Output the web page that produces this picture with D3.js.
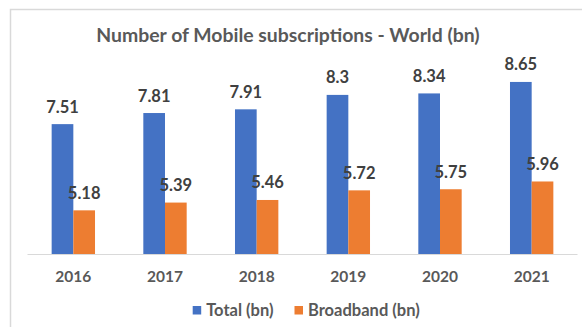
<!DOCTYPE html>
<html>
<head>
<meta charset="utf-8">
<script src="https://cdn.jsdelivr.net/npm/d3@7"></script>
<style>
  html, body { margin: 0; padding: 0; background: #ffffff; }
  svg { display: block; font-family: Lato, "Open Sans", sans-serif; font-weight: 700; }
</style>
</head>
<body>
<svg id="chart" width="582" height="327"></svg>
<script>
// Mobile subscriptions worldwide, billions
const years = ["2016", "2017", "2018", "2019", "2020", "2021"];
const totalBn = [7.51, 7.81, 7.91, 8.3, 8.34, 8.65];
const broadbandBn = [5.18, 5.39, 5.46, 5.72, 5.75, 5.96];
const seriesNames = ["Total (bn)", "Broadband (bn)"];
const seriesColors = ["#4472C4", "#ED7D31"];
const yDomain = [4, 9];
const title = "Number of Mobile subscriptions - World (bn)";

const rows = years.map((y, i) => ({ year: y, values: [totalBn[i], broadbandBn[i]] }));

const svg = d3.select("#chart");

// chart frame
svg.append("rect")
  .attr("x", 10.5).attr("y", 9.5)
  .attr("width", 640).attr("height", 360)
  .attr("fill", "#ffffff")
  .attr("stroke", "#d9d9d9").attr("stroke-width", 1.5);

const plot = { left: 27.5, right: 577.5, top: 69, bottom: 254 };

const x0 = d3.scaleBand()
  .domain(years)
  .range([plot.left, plot.right])
  .paddingInner(0.527)
  .paddingOuter(0.2635);

const x1 = d3.scaleBand()
  .domain(d3.range(seriesNames.length))
  .range([0, x0.bandwidth()])
  .padding(0);

const y = d3.scaleLinear().domain(yDomain).range([plot.bottom, plot.top]);

// title
svg.append("text")
  .attr("x", 288).attr("y", 42)
  .attr("text-anchor", "middle")
  .attr("fill", "#595959")
  .attr("font-size", 19.4)
  .text(title);

// bars
const groups = svg.append("g").selectAll("g")
  .data(rows).join("g")
  .attr("transform", d => `translate(${x0(d.year)},0)`);

groups.selectAll("rect")
  .data(d => d.values.map((v, k) => ({ v, k })))
  .join("rect")
  .attr("x", d => x1(d.k))
  .attr("width", x1.bandwidth())
  .attr("y", d => y(d.v))
  .attr("height", d => y(yDomain[0]) - y(d.v))
  .attr("fill", d => seriesColors[d.k]);

// value labels
groups.selectAll("text")
  .data(d => d.values.map((v, k) => ({ v, k })))
  .join("text")
  .attr("x", d => x1(d.k) + x1.bandwidth() / 2)
  .attr("y", d => y(d.v) - 11.5)
  .attr("text-anchor", "middle")
  .attr("fill", "#404040")
  .attr("font-size", 16.5)
  .text(d => d.v);

// category axis
const xAxis = svg.append("g")
  .attr("transform", `translate(0,${plot.bottom})`)
  .call(d3.axisBottom(x0).tickSize(0).tickPadding(0));
xAxis.select(".domain")
  .attr("stroke", "#d9d9d9").attr("stroke-width", 1)
  .attr("d", `M${plot.left},0.5H${plot.right}`);
xAxis.selectAll("text")
  .attr("font-family", "Lato, 'Open Sans', sans-serif")
  .attr("font-weight", 700)
  .attr("font-size", 15.5)
  .attr("fill", "#595959")
  .attr("dy", 0)
  .attr("y", 27.7);

// legend
const legendItems = [
  { name: seriesNames[0], color: seriesColors[0], x: 192.7 },
  { name: seriesNames[1], color: seriesColors[1], x: 294.5 }
];
const legend = svg.append("g").selectAll("g")
  .data(legendItems).join("g")
  .attr("transform", d => `translate(${d.x},306)`);
legend.append("rect")
  .attr("width", 8.5).attr("height", 8.5)
  .attr("fill", d => d.color);
legend.append("text")
  .attr("x", 13.5).attr("y", 10)
  .attr("fill", "#595959")
  .attr("font-size", 16.5)
  .text(d => d.name);
</script>
</body>
</html>
